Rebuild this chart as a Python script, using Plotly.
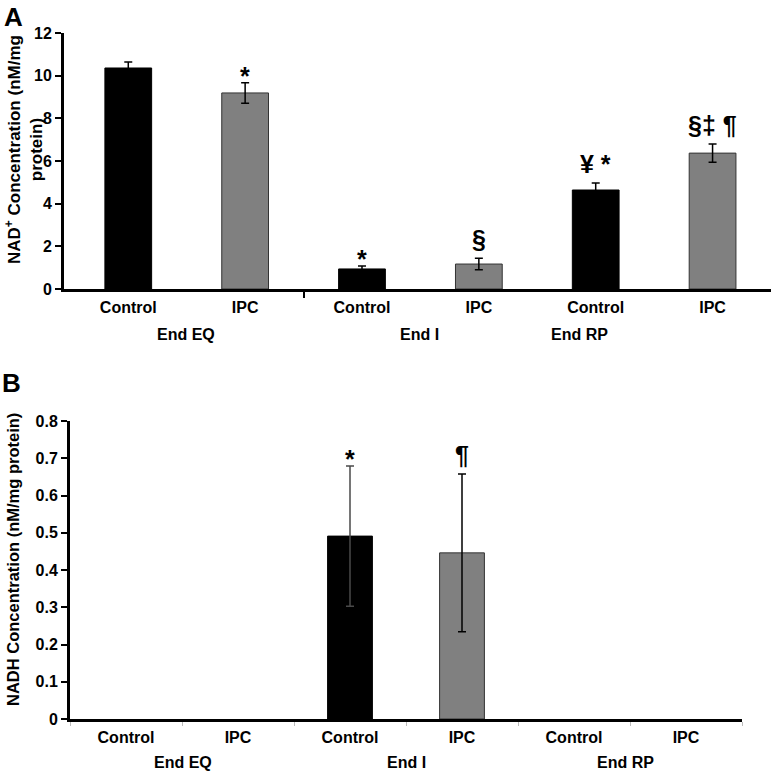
import plotly.graph_objects as go

# ---------------- data ----------------
tick_labels = ["Control", "IPC", "Control", "IPC", "Control", "IPC"]
groups = ["End EQ", "End I", "End RP"]
group_pos_a = [0.49, 2.49, 3.86]
group_pos_b = [0.51, 2.5, 4.46]

nad_vals = [10.36, 9.19, 0.94, 1.17, 4.64, 6.37]
nad_err = [0.28, 0.48, 0.14, 0.27, 0.33, 0.43]
nad_marks = ["", "*", "*", "§", "¥ *", "§‡ ¶"]

nadh_vals = [0.0, 0.0, 0.491, 0.446, 0.0, 0.0]
nadh_err = [0.0, 0.0, 0.188, 0.212, 0.0, 0.0]
nadh_marks = ["", "", "*", "¶", "", ""]

bar_colors = ["#000000", "#808080"] * 3
line_colors = ["#000000", "#333333"] * 3

FONT = "Liberation Sans, Arial, sans-serif"
W, H = 771, 774

def px_x(p):
    return p / W

def px_y(p):
    return (H - p) / H

xs = list(range(6))
fig = go.Figure()

# Panel A bars
for i in xs:
    fig.add_trace(go.Bar(
        x=[i], y=[nad_vals[i]], width=0.40,
        marker=dict(color=bar_colors[i], line=dict(color=line_colors[i], width=1)),
        error_y=dict(type="data", array=[nad_err[i]], visible=True,
                     color="#000000", thickness=1.5, width=4),
        xaxis="x", yaxis="y", showlegend=False, hoverinfo="skip"))

# Panel B bars
for i in xs:
    fig.add_trace(go.Bar(
        x=[i], y=[nadh_vals[i]], width=0.40,
        marker=dict(color=bar_colors[i],
                    line=dict(color=line_colors[i], width=1 if nadh_vals[i] > 0 else 0)),
        error_y=dict(type="data", array=[nadh_err[i]], visible=nadh_err[i] > 0,
                     color="#4a4a4a" if i % 2 == 0 else "#000000",
                     thickness=1.5, width=4),
        xaxis="x2", yaxis="y2", showlegend=False, hoverinfo="skip"))

def mark_shift(m):
    return -9 if m.strip() == "*" else 3

annotations = []
# significance marks
for i in xs:
    if nad_marks[i]:
        annotations.append(dict(x=i, y=nad_vals[i] + nad_err[i], xref="x", yref="y",
                                text="<b>%s</b>" % nad_marks[i], showarrow=False,
                                xanchor="center", yanchor="bottom", yshift=mark_shift(nad_marks[i]),
                                font=dict(family=FONT, size=25, color="#000")))
    if nadh_marks[i]:
        annotations.append(dict(x=i, y=nadh_vals[i] + nadh_err[i], xref="x2", yref="y2",
                                text="<b>%s</b>" % nadh_marks[i], showarrow=False,
                                xanchor="center", yanchor="bottom", yshift=mark_shift(nadh_marks[i]),
                                font=dict(family=FONT, size=25, color="#000")))

# group labels
for g, xa in zip(groups, group_pos_a):
    annotations.append(dict(x=xa, y=px_y(334), xref="x", yref="paper", text="<b>%s</b>" % g,
                            showarrow=False, xanchor="center", yanchor="middle",
                            font=dict(family=FONT, size=16, color="#000")))
for g, xb in zip(groups, group_pos_b):
    annotations.append(dict(x=xb, y=px_y(762), xref="x2", yref="paper", text="<b>%s</b>" % g,
                            showarrow=False, xanchor="center", yanchor="middle",
                            font=dict(family=FONT, size=16, color="#000")))

# y titles
annotations.append(dict(x=px_x(24), y=px_y(150), xref="paper", yref="paper",
                        text="<b>NAD<sup>+</sup> Concentration (nM/mg<br>protein)</b>",
                        textangle=-90, showarrow=False, xanchor="center", yanchor="middle",
                        font=dict(family=FONT, size=17, color="#000")))
annotations.append(dict(x=px_x(13), y=px_y(560), xref="paper", yref="paper",
                        text="<b>NADH Concentration (nM/mg protein)</b>",
                        textangle=-90, showarrow=False, xanchor="center", yanchor="middle",
                        font=dict(family=FONT, size=16.5, color="#000")))
# panel letters
annotations.append(dict(x=px_x(13), y=1.0, xref="paper", yref="paper", text="<b>A</b>",
                        showarrow=False, xanchor="center", yanchor="top",
                        font=dict(family=FONT, size=26, color="#000")))
annotations.append(dict(x=px_x(11), y=px_y(383), xref="paper", yref="paper", text="<b>B</b>",
                        showarrow=False, xanchor="center", yanchor="middle",
                        font=dict(family=FONT, size=26, color="#000")))

tickfont = dict(family=FONT, size=16, color="#000")

fig.update_layout(
    template="none",
    width=W, height=H,
    margin=dict(l=0, r=0, t=0, b=0, pad=0),
    paper_bgcolor="white", plot_bgcolor="white",
    barmode="overlay",
    annotations=annotations,
    xaxis=dict(domain=[px_x(64), 1.0], anchor="y", range=[-0.55, 5.5], automargin=False,
               tickvals=xs, ticktext=["<b>%s</b>" % t for t in tick_labels],
               tickfont=tickfont, ticks="", showline=True, linecolor="#000", linewidth=3,
               showgrid=False, zeroline=False, ticklabelstandoff=2,
               minor=dict(tickvals=[1.5], ticks="outside", ticklen=6, tickcolor="#000", tickwidth=2)),
    yaxis=dict(domain=[px_y(289), px_y(33)], anchor="x", range=[0, 12], automargin=False,
               tickvals=[0, 2, 4, 6, 8, 10, 12],
               ticktext=["<b>%d</b>" % v for v in [0, 2, 4, 6, 8, 10, 12]],
               tickfont=tickfont, ticks="outside", ticklen=6, tickwidth=2, tickcolor="#000",
               showline=True, linecolor="#000", linewidth=3, showgrid=False, zeroline=False),
    xaxis2=dict(domain=[px_x(70), px_x(742)], anchor="y2", range=[-0.5, 5.5], automargin=False,
                tickvals=xs, ticktext=["<b>%s</b>" % t for t in tick_labels],
                tickfont=tickfont, ticks="", showline=True, linecolor="#000", linewidth=3,
                showgrid=False, zeroline=False, ticklabelstandoff=2,
                minor=dict(tickvals=[-0.5, 0.5, 1.5, 2.5, 3.5, 4.5, 5.5], ticks="outside",
                           ticklen=4, tickcolor="#bbbbbb", tickwidth=1)),
    yaxis2=dict(domain=[px_y(719), px_y(421)], anchor="x2", range=[0, 0.8], automargin=False,
                tickvals=[0, 0.1, 0.2, 0.3, 0.4, 0.5, 0.6, 0.7, 0.8],
                ticktext=["<b>%s</b>" % t for t in ["0", "0.1", "0.2", "0.3", "0.4", "0.5", "0.6", "0.7", "0.8"]],
                tickfont=tickfont, ticks="outside", ticklen=6, tickwidth=2, tickcolor="#000",
                showline=True, linecolor="#000", linewidth=3, showgrid=False, zeroline=False),
)

fig.write_html("out.html", config={"displayModeBar": False},
               post_script="document.body.style.margin='0';document.body.style.overflow='hidden';")
